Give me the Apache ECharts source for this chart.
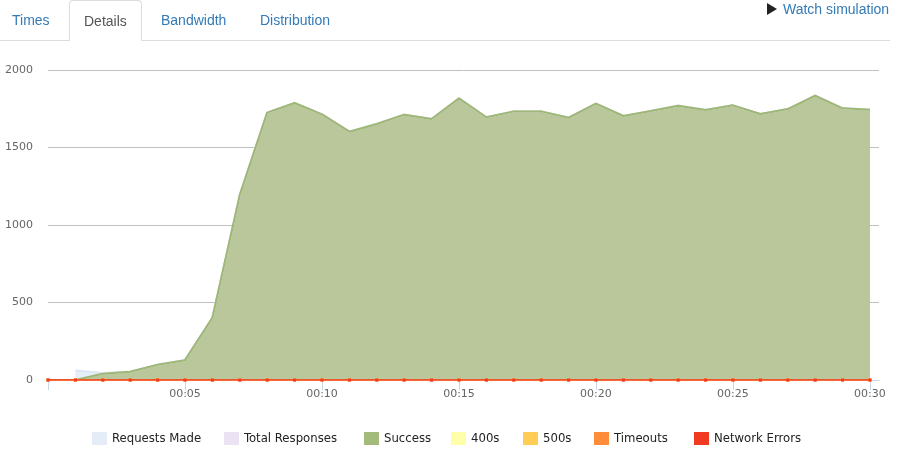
<!DOCTYPE html>
<html>
<head>
<meta charset="utf-8">
<script src="https://cdn.jsdelivr.net/npm/echarts@6/dist/echarts.min.js"></script>
<style>
  html, body { margin: 0; padding: 0; background: #fff; }
  #wrap { position: relative; width: 898px; height: 467px; overflow: hidden; font-family: "Liberation Sans", Arial, sans-serif; font-size: 14px; }
  #chart { position: absolute; left: 0; top: 0; width: 898px; height: 467px; }
  .tabline { position: absolute; left: 0; top: 40px; width: 890px; height: 1px; background: #ddd; }
  .tab { position: absolute; top: 0; height: 40px; line-height: 40px; color: #337ab7; white-space: nowrap; }
  .tab.active { color: #555; background: #fff; border: 1px solid #ddd; border-bottom: none; border-radius: 4px 4px 0 0; height: 41px; top: 0; box-sizing: border-box; padding: 0 14px; line-height: 40px; }
  #watch { position: absolute; top: 0; left: 767px; line-height: 18px; color: #337ab7; white-space: nowrap; }
  #watch .tri { display: inline-block; width: 0; height: 0; border-top: 6px solid transparent; border-bottom: 6px solid transparent; border-left: 10px solid #222; vertical-align: -1px; margin-right: 6px; }
</style>
</head>
<body>
<div id="wrap">
  <div id="chart"></div>
  <div class="tabline"></div>
  <div class="tab" style="left:12px">Times</div>
  <div class="tab active" style="left:69px;width:73px">Details</div>
  <div class="tab" style="left:161px">Bandwidth</div>
  <div class="tab" style="left:260px">Distribution</div>
  <div id="watch"><span class="tri"></span>Watch simulation</div>
</div>
<script>
// ---- data (seconds into simulation) ----
const seconds = [0,1,2,3,4,5,6,7,8,9,10,11,12,13,14,15,16,17,18,19,20,21,22,23,24,25,26,27,28,29,30];
const activeSeconds = [1,2,3,4,5,6,7,8,9,10,11,12,13,14,15,16,17,18,19,20,21,22,23,24,25,26,27,28,29,30];
const requestsMade = [61,45,55,99,129,403,1195,1726,1788,1715,1603,1653,1713,1685,1818,1696,1734,1734,1693,1784,1704,1736,1771,1743,1773,1717,1749,1835,1754,1745];
const totalResponses = [0,40,53,98,128,402,1194,1725,1787,1714,1602,1652,1712,1684,1817,1695,1733,1733,1692,1783,1703,1735,1770,1742,1772,1716,1748,1834,1753,1744];
const success = [0,40,53,98,128,402,1194,1725,1787,1714,1602,1652,1712,1684,1817,1695,1733,1733,1692,1783,1703,1735,1770,1742,1772,1716,1748,1834,1753,1744];
const status400 = [0,0,0,0,0,0,0,0,0,0,0,0,0,0,0,0,0,0,0,0,0,0,0,0,0,0,0,0,0,0,0];
const status500 = [0,0,0,0,0,0,0,0,0,0,0,0,0,0,0,0,0,0,0,0,0,0,0,0,0,0,0,0,0,0,0];
const timeouts = [0,0,0,0,0,0,0,0,0,0,0,0,0,0,0,0,0,0,0,0,0,0,0,0,0,0,0,0,0,0,0];
const networkErrors = [0,0,0,0,0,0,0,0,0,0,0,0,0,0,0,0,0,0,0,0,0,0,0,0,0,0,0,0,0,0,0];
const xTickValues = [0,5,10,15,20,25,30];
const xLabelValues = [5,10,15,20,25,30];
const yTicks = [0,500,1000,1500,2000];

const seriesNames = ['Requests Made','Total Responses','Success','400s','500s','Timeouts','Network Errors'];
const legendLefts = [92,224,364,451,523,594,694];

function pairs(xs, ys) { return xs.map((x, i) => [x, ys[i]]); }
function fmtTime(v) { const s = Math.round(v); const m = Math.floor(s / 60); const r = s % 60; return String(m).padStart(2,'0') + ':' + String(r).padStart(2,'0'); }

const chart = echarts.init(document.getElementById('chart'), null, { renderer: 'canvas' });

function areaSeries(name, xs, ys, fill, line, icon) {
  return {
    name, type: 'line', data: pairs(xs, ys), showSymbol: false, symbol: 'none',
    lineStyle: { color: line, width: 2 }, areaStyle: { color: fill, opacity: 1 },
    itemStyle: { color: icon }, animation: false, z: 2
  };
}
function zeroSeries(name, ys, color, z) {
  return {
    name, type: 'line', data: pairs(seconds, ys),
    symbol: 'rect', symbolSize: 3, showSymbol: true,
    lineStyle: { color, width: 1.5 }, itemStyle: { color }, animation: false, z
  };
}

const option = {
  animation: false,
  grid: { left: 48, right: 19, top: 70, bottom: 87, containLabel: false },
  xAxis: {
    type: 'value', min: 0, max: 30.33,
    axisLine: { show: true, lineStyle: { color: '#ccd6eb', width: 1 } },
    axisTick: { show: true, length: 10, lineStyle: { color: '#ccd6eb' }, customValues: xTickValues },
    axisLabel: { customValues: xLabelValues, formatter: v => fmtTime(v), color: '#666', fontFamily: 'DejaVu Sans', fontSize: 11, margin: 9 },
    splitLine: { show: false }
  },
  yAxis: {
    type: 'value', min: 0, max: 2000, interval: 500,
    axisLine: { show: false }, axisTick: { show: false },
    axisLabel: { color: '#666', fontFamily: 'DejaVu Sans', fontSize: 11, margin: 15, formatter: v => String(v), customValues: yTicks },
    splitLine: { lineStyle: { color: '#c0c0c0', width: 1 } }
  },
  legend: seriesNames.map((n, i) => ({
    data: [n], left: legendLefts[i], top: 432, padding: 0, icon: 'rect', itemWidth: 15, itemHeight: 13, itemGap: 0,
    textStyle: { color: '#222', fontFamily: 'DejaVu Sans Condensed', fontSize: 13 },
    selectedMode: false
  })),
  series: [
    areaSeries('Requests Made', activeSeconds, requestsMade, '#e6eef7', '#dbe6f3', '#e4edf7'),
    areaSeries('Total Responses', activeSeconds, totalResponses, '#ece4f4', '#e3d8ef', '#ebe2f3'),
    areaSeries('Success', activeSeconds, success, '#b9c79b', '#9db872', '#a4ba7a'),
    zeroSeries('400s', status400, '#ffffaa', 3),
    zeroSeries('500s', status500, '#ffcc55', 4),
    zeroSeries('Timeouts', timeouts, '#ff8c3a', 5),
    zeroSeries('Network Errors', networkErrors, '#f03a22', 6)
  ]
};
chart.setOption(option);
</script>
</body>
</html>
